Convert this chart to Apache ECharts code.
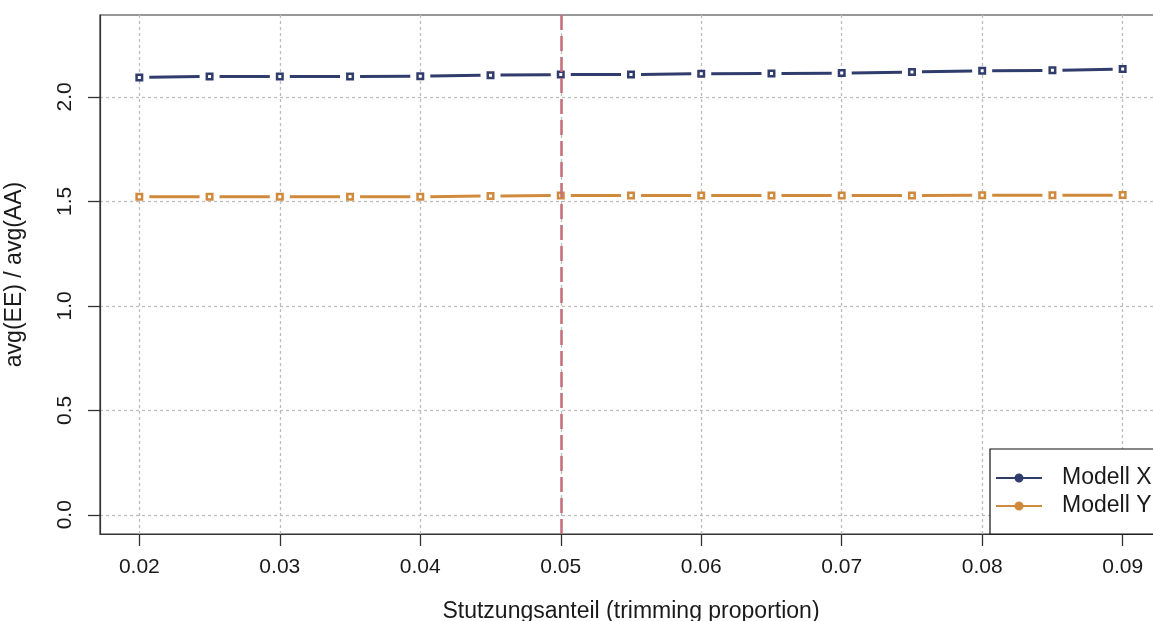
<!DOCTYPE html>
<html>
<head>
<meta charset="utf-8">
<script src="https://cdn.jsdelivr.net/npm/echarts@6/dist/echarts.min.js"></script>
<style>
  html, body { margin: 0; padding: 0; background: #ffffff; }
  #chart { width: 1153px; height: 621px; }
</style>
</head>
<body>
<div id="chart"></div>
<script>
// Trimming proportions and the ratio avg(EE) / avg(AA) for both models
const proportions = [0.02, 0.025, 0.03, 0.035, 0.04, 0.045, 0.05, 0.055, 0.06, 0.065, 0.07, 0.075, 0.08, 0.085, 0.09];
const modellX = [2.093, 2.098, 2.098, 2.098, 2.099, 2.104, 2.107, 2.107, 2.111, 2.112, 2.114, 2.119, 2.125, 2.127, 2.133];
const modellY = [1.522, 1.522, 1.522, 1.522, 1.522, 1.526, 1.528, 1.528, 1.528, 1.528, 1.528, 1.528, 1.529, 1.529, 1.530];

const xTicks = [0.02, 0.03, 0.04, 0.05, 0.06, 0.07, 0.08, 0.09];
const yTicks = [0.0, 0.5, 1.0, 1.5, 2.0];
const chosenProportion = 0.05;

const seriesNames = ['Modell X', 'Modell Y'];
const colors = ['#303c6c', '#cf8a3e'];

const FONT = '"Liberation Sans", Arial, sans-serif';
const TEXT = '#1a1a1a';
const AXIS = '#333333';

// axis limits padded by 4% of the data range on both sides
const xMin = 0.02, xMax = 0.09, yMin = 0, yMax = 2.3;
const xPad = (xMax - xMin) * 0.04, yPad = (yMax - yMin) * 0.04;

const pairs = arr => proportions.map((p, i) => [p, arr[i]]);
// consecutive point pairs, one per connecting segment
const segments = arr => proportions.slice(0, -1).map((p, i) => [p, arr[i], proportions[i + 1], arr[i + 1]]);
const allSeries = [modellX, modellY];

// segment between two points, leaving a gap next to each point marker
const SEG_GAP = 10;
function segmentRenderer(color) {
  return function (params, api) {
    const a = api.coord([api.value(0), api.value(1)]);
    const b = api.coord([api.value(2), api.value(3)]);
    const dx = b[0] - a[0], dy = b[1] - a[1];
    const len = Math.sqrt(dx * dx + dy * dy) || 1;
    const ux = dx / len, uy = dy / len;
    return {
      type: 'line',
      shape: {
        x1: a[0] + ux * SEG_GAP, y1: a[1] + uy * SEG_GAP,
        x2: b[0] - ux * SEG_GAP, y2: b[1] - uy * SEG_GAP
      },
      style: { stroke: color, lineWidth: 3, lineCap: 'butt', fill: null }
    };
  };
}

const series = [];
allSeries.forEach((arr, k) => {
  series.push({
    name: seriesNames[k], type: 'custom', data: segments(arr),
    encode: { x: [0, 2], y: [1, 3] },
    renderItem: segmentRenderer(colors[k]),
    itemStyle: { color: colors[k] },
    z: 2, silent: true, animation: false
  });
});
// open square markers
allSeries.forEach((arr, k) => {
  series.push({
    name: seriesNames[k] + ' pts', type: 'scatter', data: pairs(arr),
    symbol: 'rect', symbolSize: 5.5,
    itemStyle: { color: '#ffffff', borderColor: colors[k], borderWidth: 2.5, opacity: 1 },
    z: 3, silent: true, animation: false,
    markLine: k === 1 ? {
      silent: true, symbol: 'none', label: { show: false }, animation: false,
      lineStyle: { color: '#c46e78', width: 2.5, type: [15, 6] },
      data: [{ xAxis: chosenProportion }]
    } : undefined
  });
});

const legendIcon = 'path://M0,3.6 H46 V5.4 H0 Z M23,0 A4.5,4.5 0 1 1 23,9 A4.5,4.5 0 1 1 23,0 Z';

const chart = echarts.init(document.getElementById('chart'), null, { renderer: 'canvas' });
chart.setOption({
  backgroundColor: '#ffffff',
  animation: false,
  textStyle: { fontFamily: FONT },
  grid: {
    left: 100, top: 15, right: -9, bottom: 87,
    containLabel: false, outerBoundsMode: 'none',
    show: true, borderColor: AXIS, borderWidth: 1.2, backgroundColor: 'transparent'
  },
  legend: {
    left: 990, top: 449,
    orient: 'vertical',
    data: seriesNames.map((n, k) => ({ name: n, icon: legendIcon, itemStyle: { color: colors[k] } })),
    itemWidth: 46, itemHeight: 9, itemGap: 4,
    padding: [17, 60, 16, 6],
    borderColor: '#111111', borderWidth: 1.2, backgroundColor: '#ffffff',
    selectedMode: false,
    textStyle: { fontFamily: FONT, fontSize: 23, color: TEXT, lineHeight: 24, padding: [0, 0, 0, 15] }
  },
  xAxis: {
    type: 'value', min: xMin - xPad, max: xMax + xPad,
    name: 'Stutzungsanteil (trimming proportion)', nameLocation: 'middle', nameGap: 66,
    nameMoveOverlap: false,
    nameTextStyle: { fontFamily: FONT, fontSize: 23, color: TEXT },
    axisLine: { show: true, onZero: false, lineStyle: { color: AXIS, width: 1.2 } },
    axisTick: { show: true, inside: false, customValues: xTicks, length: 12, lineStyle: { color: AXIS, width: 1.3 } },
    axisLabel: {
      customValues: xTicks, margin: 23, fontFamily: FONT, fontSize: 21, color: TEXT,
      formatter: v => v.toFixed(2)
    },
    splitLine: { show: true, lineStyle: { color: '#bdbdbd', width: 1.3, type: [3, 3] } }
  },
  yAxis: {
    type: 'value', min: yMin - yPad, max: yMax + yPad,
    name: 'avg(EE) / avg(AA)', nameLocation: 'middle', nameGap: 74, nameRotate: 90,
    nameMoveOverlap: false,
    nameTextStyle: { fontFamily: FONT, fontSize: 23, color: TEXT },
    axisLine: { show: true, onZero: false, lineStyle: { color: AXIS, width: 1.2 } },
    axisTick: { show: true, inside: false, customValues: yTicks, length: 12, lineStyle: { color: AXIS, width: 1.3 } },
    axisLabel: {
      customValues: yTicks, rotate: 90, margin: 24, fontFamily: FONT, fontSize: 21, color: TEXT,
      formatter: v => v.toFixed(1)
    },
    splitLine: { show: true, lineStyle: { color: '#bdbdbd', width: 1.3, type: [3, 3] } }
  },
  series: series
});
</script>
</body>
</html>
